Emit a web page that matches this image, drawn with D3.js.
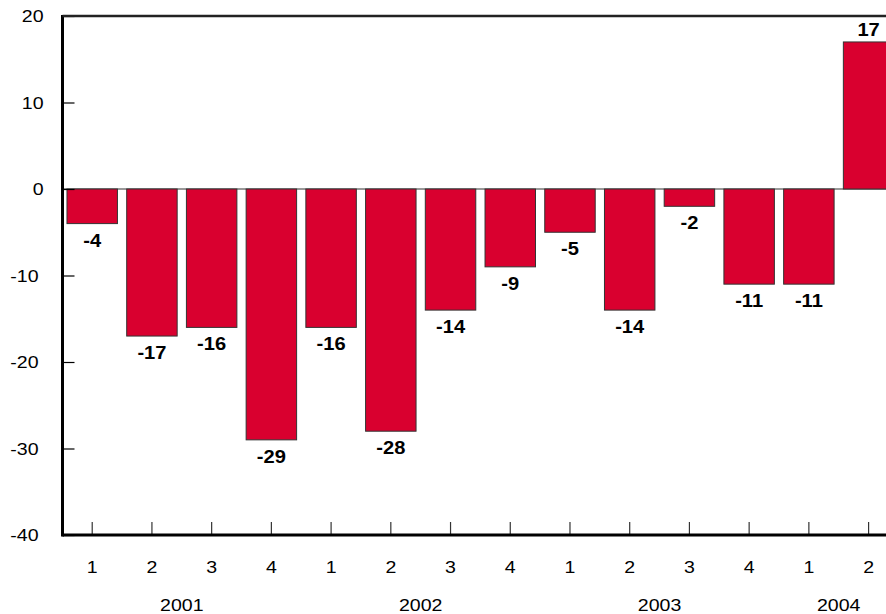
<!DOCTYPE html>
<html>
<head>
<meta charset="utf-8">
<script src="https://cdn.jsdelivr.net/npm/d3@7"></script>
<style>
  body { margin: 0; background: #fff; }
  svg { display: block; font-family: "Liberation Sans", Arial, sans-serif; }
</style>
</head>
<body>
<script>
// data
var periods = ["2001-1", "2001-2", "2001-3", "2001-4",
               "2002-1", "2002-2", "2002-3", "2002-4",
               "2003-1", "2003-2", "2003-3", "2003-4",
               "2004-1", "2004-2"];
var quarters = ["1", "2", "3", "4", "1", "2", "3", "4", "1", "2", "3", "4", "1", "2"];
var years = ["2001", "2002", "2003", "2004"];
var values = [-4, -17, -16, -29, -16, -28, -14, -9, -5, -14, -2, -11, -11, 17];
var yTicks = [20, 10, 0, -10, -20, -30, -40];

const WIDTH = 886;
const HEIGHT = 614;
const LEFT = 62.5;
const TOP = 16;
const BOTTOM = 535;
const STEP = 59.7;
const SX = 1.15;   // text in the original is a bit wide

var svg = d3.select("body").append("svg")
    .attr("width", WIDTH)
    .attr("height", HEIGHT);

// x: band per quarter, the last year runs off the right edge
var x = d3.scaleBand()
    .domain(periods)
    .range([LEFT, LEFT + STEP * periods.length])
    .paddingInner(0.155)
    .paddingOuter(0.075);

var y = d3.scaleLinear()
    .domain([-40, 20])
    .range([BOTTOM, TOP]);

var mid = p => x(p) + x.bandwidth() / 2;
var place = (px, py) => `translate(${px},${py}) scale(${SX},1)`;

// zero line
svg.append("line")
    .attr("x1", LEFT).attr("x2", WIDTH)
    .attr("y1", y(0)).attr("y2", y(0))
    .attr("stroke", "#777").attr("stroke-width", 1.5);

// bars
svg.selectAll("rect.bar")
    .data(values)
    .enter()
    .append("rect")
    .attr("class", "bar")
    .attr("x", (d, i) => x(periods[i]))
    .attr("y", d => y(Math.max(0, d)))
    .attr("width", x.bandwidth())
    .attr("height", d => Math.abs(y(d) - y(0)))
    .attr("fill", "#d9002f")
    .attr("stroke", "#333")
    .attr("stroke-width", 1);

// value labels
svg.selectAll("text.val")
    .data(values)
    .enter()
    .append("text")
    .attr("class", "val")
    .attr("transform", (d, i) => place(mid(periods[i]), d < 0 ? y(d) + 23 : y(d) - 6))
    .attr("text-anchor", "middle")
    .attr("font-size", "17.5px")
    .attr("font-weight", "bold")
    .text(d => d);

// y axis (ticks point inward)
var yAxis = svg.append("g")
    .attr("transform", `translate(${LEFT},0)`)
    .call(d3.axisRight(y).tickValues(yTicks).tickSize(12).tickFormat(""));
yAxis.select(".domain").remove();
yAxis.selectAll(".tick line").attr("stroke", "#000").attr("stroke-width", 1.2);

// negative labels sit a little further left, as in the original
svg.selectAll("text.ylab")
    .data(yTicks)
    .enter()
    .append("text")
    .attr("class", "ylab")
    .attr("transform", d => place(d < 0 ? 38.5 : 43.5, y(d) + 6))
    .attr("text-anchor", "end")
    .attr("font-size", "17px")
    .text(d => d);

// x axis ticks point up
var xAxis = svg.append("g")
    .attr("transform", `translate(0,${BOTTOM})`)
    .call(d3.axisTop(x).tickSize(13).tickFormat(""));
xAxis.select(".domain").remove();
xAxis.selectAll(".tick line").attr("stroke", "#333").attr("stroke-width", 1.2);

svg.selectAll("text.qlab")
    .data(quarters)
    .enter()
    .append("text")
    .attr("class", "qlab")
    .attr("transform", (d, i) => place(mid(periods[i]), 573))
    .attr("text-anchor", "middle")
    .attr("font-size", "17px")
    .text(d => d);

// year labels centred under their quarters
svg.selectAll("text.year")
    .data(years)
    .enter()
    .append("text")
    .attr("class", "year")
    .attr("transform", yr => place(d3.mean(periods.filter(p => p.startsWith(yr)), mid), 611))
    .attr("text-anchor", "middle")
    .attr("font-size", "17px")
    .text(d => d);

// frame lines: left, top, bottom
svg.append("line")
    .attr("x1", LEFT).attr("x2", LEFT)
    .attr("y1", TOP - 1).attr("y2", BOTTOM + 1.5)
    .attr("stroke", "#000").attr("stroke-width", 3);
svg.append("line")
    .attr("x1", LEFT).attr("x2", WIDTH)
    .attr("y1", TOP).attr("y2", TOP)
    .attr("stroke", "#222").attr("stroke-width", 2.5);
svg.append("line")
    .attr("x1", LEFT).attr("x2", WIDTH)
    .attr("y1", BOTTOM).attr("y2", BOTTOM)
    .attr("stroke", "#000").attr("stroke-width", 3);
</script>
</body>
</html>
